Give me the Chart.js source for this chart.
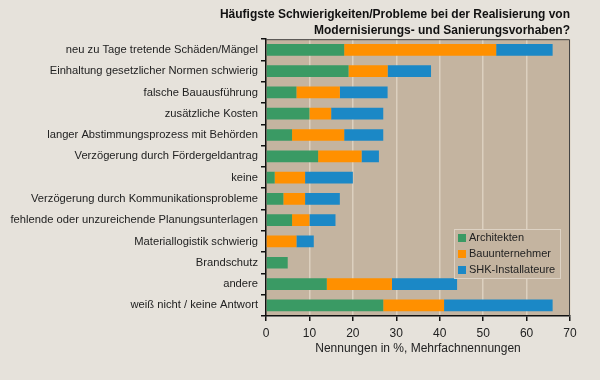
<!DOCTYPE html>
<html>
<head>
<meta charset="utf-8">
<script src="https://cdn.jsdelivr.net/npm/chart.js@4/dist/chart.umd.min.js"></script>
<style>
    body { margin: 0; background: #e6e2db; }
</style>
</head>
<body>
<canvas id="chart" width="600" height="380"></canvas>
<script>
// Data
const categories = [
    'neu zu Tage tretende Schäden/Mängel',
    'Einhaltung gesetzlicher Normen schwierig',
    'falsche Bauausführung',
    'zusätzliche Kosten',
    'langer Abstimmungsprozess mit Behörden',
    'Verzögerung durch Fördergeldantrag',
    'keine',
    'Verzögerung durch Kommunikationsprobleme',
    'fehlende oder unzureichende Planungsunterlagen',
    'Materiallogistik schwierig',
    'Brandschutz',
    'andere',
    'weiß nicht / keine Antwort'
];
const architekten    = [18, 19, 7, 10, 6, 12, 2, 4, 6, 0, 5, 14, 27];
const bauunternehmer = [35, 9, 10, 5, 12, 10, 7, 5, 4, 7, 0, 15, 14];
const installateure  = [13, 10, 11, 12, 9, 4, 11, 8, 6, 4, 0, 15, 25];
const xTicks = [0, 10, 20, 30, 40, 50, 60, 70];

const FONT = 'Liberation Sans, Arial, sans-serif';

// plot background + frame
const plotArea = {
    id: 'plotArea',
    beforeDraw(chart) {
        const { ctx, chartArea: a } = chart;
        ctx.save();
        ctx.fillStyle = '#c4b4a0';
        ctx.fillRect(a.left, a.top, a.right - a.left, a.bottom - a.top);
        ctx.restore();
    },
    afterDatasetsDraw(chart) {
        const { ctx, chartArea: a } = chart;
        ctx.save();
        ctx.strokeStyle = '#444';
        ctx.lineWidth = 1;
        ctx.beginPath();
        ctx.moveTo(a.left, a.top + 0.5);
        ctx.lineTo(a.right - 0.5, a.top + 0.5);
        ctx.lineTo(a.right - 0.5, a.bottom);
        ctx.stroke();
        ctx.restore();
    }
};

// legend drawn inside the plot
const innerLegend = {
    id: 'innerLegend',
    afterDraw(chart) {
        const { ctx } = chart;
        const x = 454, y = 229, w = 106, h = 49;
        ctx.save();
        ctx.fillStyle = '#c4b4a0';
        ctx.fillRect(x, y, w, h);
        ctx.strokeStyle = '#ddd2c4';
        ctx.lineWidth = 1;
        ctx.strokeRect(x + 0.5, y + 0.5, w, h);
        ctx.font = '11px ' + FONT;
        ctx.textBaseline = 'middle';
        chart.data.datasets.forEach((ds, i) => {
            const cy = y + 9 + i * 16;
            ctx.fillStyle = ds.backgroundColor;
            ctx.fillRect(x + 4, cy - 4, 8, 8);
            ctx.fillStyle = '#222';
            ctx.fillText(ds.label, x + 15, cy);
        });
        ctx.restore();
    }
};

const ctx = document.getElementById('chart').getContext('2d');
const chart = new Chart(ctx, {
    type: 'bar',
    data: {
        labels: categories,
        datasets: [
            { label: 'Architekten', data: architekten, backgroundColor: '#3a9a64' },
            { label: 'Bauunternehmer', data: bauunternehmer, backgroundColor: '#ff9000' },
            { label: 'SHK-Installateure', data: installateure, backgroundColor: '#1b88c6' }
        ]
    },
    options: {
        indexAxis: 'y',
        responsive: false,
        animation: false,
        devicePixelRatio: 1,
        datasets: {
            bar: { barPercentage: 0.55, categoryPercentage: 1.0 }
        },
        layout: {
            padding: { left: 0, right: 30, top: 0, bottom: 24 }
        },
        scales: {
            x: {
                stacked: true,
                min: 0,
                max: 70,
                afterBuildTicks: (s) => { s.ticks = xTicks.map(v => ({ value: v })); },
                afterFit: (s) => { s.height = 40; },
                border: { color: '#111', width: 1.5 },
                grid: {
                    color: (c) => c.tick.value === 0 ? 'rgba(0,0,0,0)' : '#dcd0bf',
                    lineWidth: 1.5,
                    drawTicks: true,
                    tickLength: 5,
                    tickColor: '#111',
                    tickWidth: 1.5
                },
                ticks: {
                    color: '#222',
                    padding: 5,
                    font: { family: FONT, size: 12 }
                },
                title: {
                    display: true,
                    text: 'Nennungen in %, Mehrfachnennungen',
                    color: '#222',
                    padding: { top: 0, bottom: 0 },
                    font: { family: FONT, size: 12 }
                }
            },
            y: {
                stacked: true,
                afterFit: (s) => { s.width = 266; },
                border: { color: '#111', width: 1.5 },
                grid: {
                    offset: true,
                    drawOnChartArea: false,
                    drawTicks: true,
                    tickLength: 5,
                    color: '#111',
                    lineWidth: 1.5
                },
                ticks: {
                    color: '#222',
                    padding: 3,
                    autoSkip: false,
                    font: { family: FONT, size: 11.2 }
                }
            }
        },
        plugins: {
            legend: { display: false },
            tooltip: { enabled: false },
            title: {
                display: true,
                align: 'end',
                text: [
                    'Häufigste Schwierigkeiten/Probleme bei der Realisierung von',
                    'Modernisierungs- und Sanierungsvorhaben?'
                ],
                color: '#111',
                padding: { top: 7, bottom: 1 },
                font: { family: FONT, size: 12, weight: 'bold', lineHeight: 1.3 }
            }
        }
    },
    plugins: [plotArea, innerLegend]
});
</script>
</body>
</html>
